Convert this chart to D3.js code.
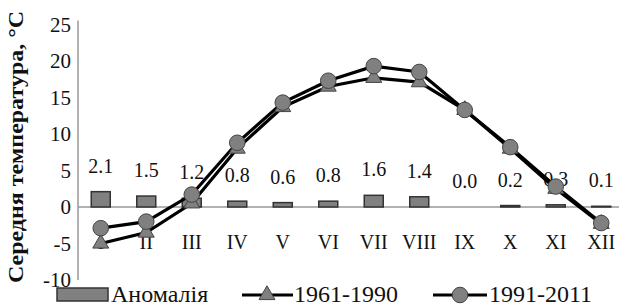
<!DOCTYPE html>
<meta charset="utf-8">
<style>
body { margin: 0; background: #fff; }
text { font-family: "Liberation Serif", "Times New Roman", serif; fill: #111; }
.axis-line { stroke: #999; stroke-width: 1.5; }
.bar { fill: #808080; stroke: #333; stroke-width: 1.5; }
.series-line { fill: none; stroke: #000; stroke-width: 3.2; }
.marker { fill: #808080; stroke: #444; stroke-width: 1; }
</style>
<svg width="619" height="308"></svg>
<script src="https://d3js.org/d3.v7.min.js"></script>
<script>

var months = ["I", "II", "III", "IV", "V", "VI", "VII", "VIII", "IX", "X", "XI", "XII"];
var anomaly = [2.1, 1.5, 1.2, 0.8, 0.6, 0.8, 1.6, 1.4, 0.0, 0.2, 0.3, 0.1];
var t1961 = [-5.0, -3.5, 0.5, 8.0, 13.7, 16.5, 17.7, 17.1, 13.3, 8.0, 2.5, -2.3];
var t1991 = [-2.9, -2.0, 1.7, 8.8, 14.3, 17.3, 19.3, 18.5, 13.3, 8.2, 2.8, -2.2];
var yTicks = [-10, -5, 0, 5, 10, 15, 20, 25];

var svg = d3.select("svg");

var x = d3.scaleBand()
    .domain(months)
    .range([78, 624]);

var y = d3.scaleLinear()
    .domain([-10, 25])
    .range([280, 24.5]);

// axes
svg.append("line")
    .attr("class", "axis-line")
    .attr("x1", 78).attr("x2", 78)
    .attr("y1", y(25) - 4).attr("y2", y(-10));

svg.append("line")
    .attr("class", "axis-line")
    .attr("x1", 78).attr("x2", 619)
    .attr("y1", y(0)).attr("y2", y(0));

svg.selectAll(".ytick")
  .data(yTicks)
  .enter().append("text")
    .attr("class", "ytick")
    .attr("x", 71)
    .attr("y", function(d) { return y(d); })
    .attr("dy", "0.35em")
    .attr("text-anchor", "end")
    .style("font-size", "21px")
    .text(function(d) { return d; });

svg.selectAll(".xtick")
  .data(months)
  .enter().append("text")
    .attr("class", "xtick")
    .attr("x", function(d) { return x(d) + x.bandwidth() / 2; })
    .attr("y", 242)
    .attr("dy", "0.35em")
    .attr("text-anchor", "middle")
    .style("font-size", "20px")
    .text(function(d) { return d; });

svg.append("text")
    .attr("transform", "translate(23,147) rotate(-90)")
    .attr("text-anchor", "middle")
    .attr("textLength", 272)
    .attr("lengthAdjust", "spacingAndGlyphs")
    .style("font-size", "21px")
    .style("font-weight", "bold")
    .text("Середня температура, °С");

// anomaly bars
var barW = 19;
svg.selectAll(".bar")
  .data(anomaly)
  .enter().append("rect")
    .attr("class", "bar")
    .attr("x", function(d, i) { return x(months[i]) + x.bandwidth() / 2 - barW / 2; })
    .attr("y", function(d) { return y(d); })
    .attr("width", barW)
    .attr("height", function(d) { return y(0) - y(d); });

svg.selectAll(".bar-label")
  .data(anomaly)
  .enter().append("text")
    .attr("class", "bar-label")
    .attr("x", function(d, i) { return x(months[i]) + x.bandwidth() / 2; })
    .attr("y", function(d) { return y(d) - 19; })
    .attr("text-anchor", "middle")
    .style("font-size", "20px")
    .text(function(d) { return d.toFixed(1); });

// lines
var line = d3.line()
    .x(function(d, i) { return x(months[i]) + x.bandwidth() / 2; })
    .y(function(d) { return y(d); });

svg.append("path")
    .datum(t1961)
    .attr("class", "series-line")
    .attr("d", line);

svg.append("path")
    .datum(t1991)
    .attr("class", "series-line")
    .attr("d", line);

var tri = d3.symbol().type(d3.symbolTriangle).size(110);
var circ = d3.symbol().type(d3.symbolCircle).size(190);

svg.selectAll(".tri")
  .data(t1961)
  .enter().append("path")
    .attr("class", "marker")
    .attr("transform", function(d, i) {
      return "translate(" + (x(months[i]) + x.bandwidth() / 2) + "," + y(d) + ")";
    })
    .attr("d", tri);

svg.selectAll(".circ")
  .data(t1991)
  .enter().append("path")
    .attr("class", "marker")
    .attr("transform", function(d, i) {
      return "translate(" + (x(months[i]) + x.bandwidth() / 2) + "," + y(d) + ")";
    })
    .attr("d", circ);

// legend
var legend = svg.append("g");

legend.append("rect")
    .attr("class", "bar")
    .attr("x", 57).attr("y", 288)
    .attr("width", 51).attr("height", 13);

legend.append("text")
    .attr("x", 111).attr("y", 302)
    .style("font-size", "24px")
    .text("Аномалія");

legend.append("line")
    .attr("class", "series-line")
    .attr("x1", 242).attr("x2", 293)
    .attr("y1", 295).attr("y2", 295);

legend.append("path")
    .attr("class", "marker")
    .attr("transform", "translate(267,295)")
    .attr("d", tri);

legend.append("text")
    .attr("x", 294).attr("y", 302)
    .style("font-size", "24px")
    .text("1961-1990");

legend.append("line")
    .attr("class", "series-line")
    .attr("x1", 433).attr("x2", 487)
    .attr("y1", 295).attr("y2", 295);

legend.append("path")
    .attr("class", "marker")
    .attr("transform", "translate(460,295)")
    .attr("d", circ);

legend.append("text")
    .attr("x", 489).attr("y", 302)
    .style("font-size", "24px")
    .text("1991-2011");

</script>
